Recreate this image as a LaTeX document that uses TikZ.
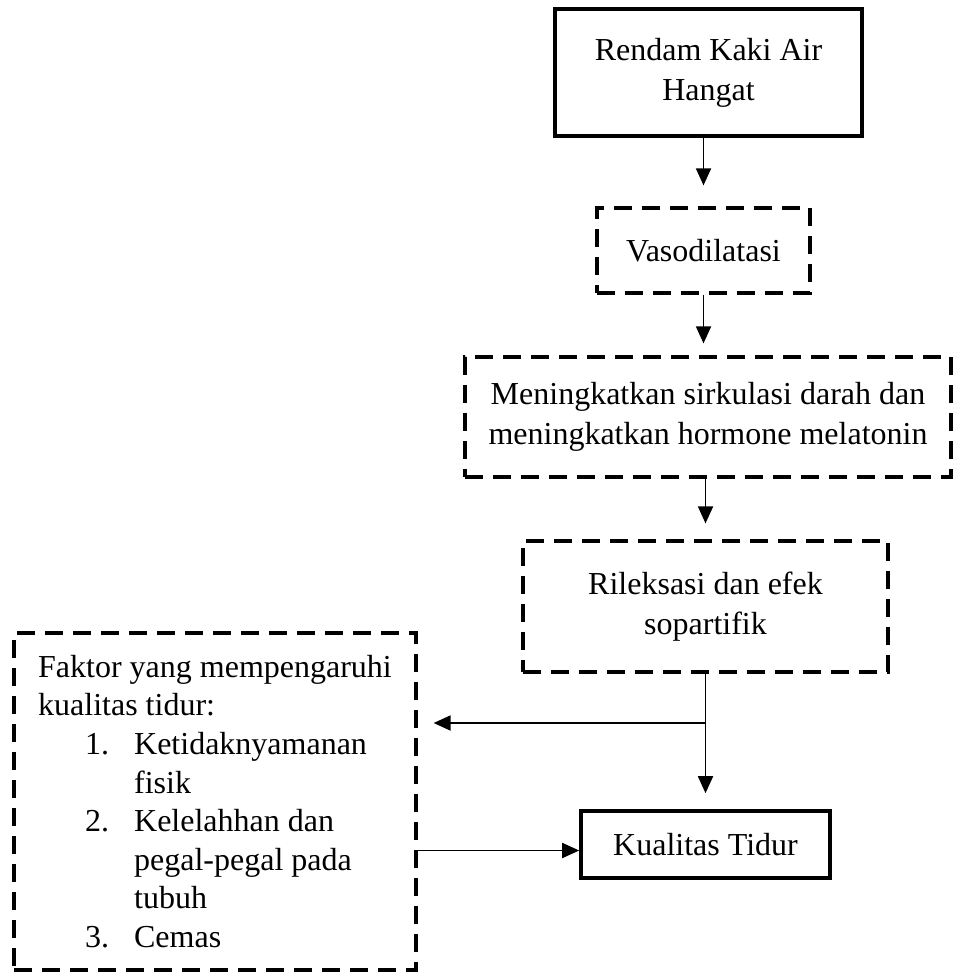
\documentclass[tikz,border=0pt]{standalone}
\usepackage{fontspec}
\setmainfont{Liberation Serif}
\usetikzlibrary{arrows.meta}

\begin{document}
\begin{tikzpicture}[
		x=0.5pt, y=-0.5pt,
		box/.style = {draw, line width=1.8pt, inner sep=0pt, align=center, font=\fontsize{16}{20}\selectfont},
		dbox/.style = {box, line width=1.6pt, dash pattern=on 9pt off 5pt},
		arr/.style = {-{Triangle[length=8.5pt, width=7.5pt]}, line width=0.9pt}
	]
	\useasboundingbox (0,0) rectangle (956,972);
	\node[box, minimum width=153.5pt, minimum height=63.5pt] (rendam) at (708.5,72.5) {Rendam Kaki Air\\Hangat};
	\node[dbox, minimum width=106.5pt, minimum height=42.5pt] (vaso) at (703.5,250.5) {Vasodilatasi};
	\node[dbox, minimum width=243pt, minimum height=60pt] (sirk) at (708,417) {Meningkatkan sirkulasi darah dan\\meningkatkan hormone melatonin};
	\node[dbox, minimum width=182.5pt, minimum height=65.5pt] (relaks) at (705.5,606.5) {Rileksasi dan efek\\sopartifik};
	\node[box, minimum width=124.5pt, minimum height=33.5pt] (kual) at (705.5,844.5) {Kualitas Tidur};
	\node[dbox, align=left, minimum width=201pt, minimum height=168.5pt, font=\fontsize{16}{19.3}\selectfont] (faktor) at (215,801.5)
		{Faktor yang mempengaruhi\\
		kualitas tidur:\\
		\hspace*{23.5pt}\makebox[24.5pt][l]{1.}Ketidaknyamanan\\
		\hspace*{48pt}fisik\\
		\hspace*{23.5pt}\makebox[24.5pt][l]{2.}Kelelahhan dan\\
		\hspace*{48pt}pegal-pegal pada\\
		\hspace*{48pt}tubuh\\
		\hspace*{23.5pt}\makebox[24.5pt][l]{3.}Cemas};
	\coordinate (fork) at (705.5,723);
	% Draw the main chain.
	\draw[arr, shorten >=10.5pt] (rendam.south -| vaso) -- (vaso);
	\draw[arr, shorten >=6pt] (vaso) -- (vaso |- sirk.north);
	\draw[arr, shorten >=8pt] (sirk.south -| relaks) -- (relaks);
	\draw[arr, shorten >=8pt] (relaks) -- (kual);
	% Draw the side branches.
	\draw[arr, shorten >=8pt] (fork) -- (faktor.east |- fork);
	\draw[arr] ([yshift=-3pt]faktor.east |- kual.west) -- ([yshift=-3pt]kual.west);
\end{tikzpicture}
\end{document}
